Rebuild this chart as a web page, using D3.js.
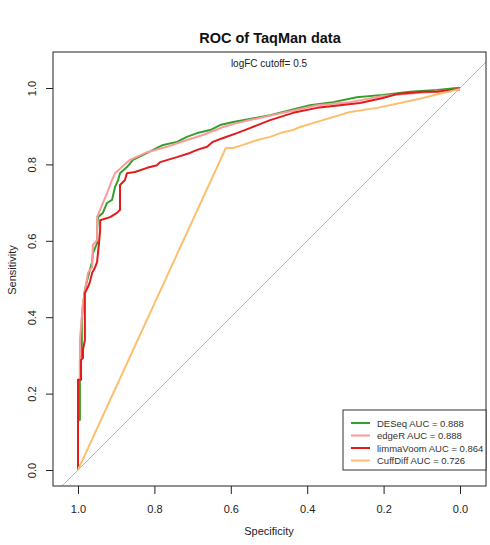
<!DOCTYPE html>
<html>
<head>
<meta charset="utf-8">
<script src="https://d3js.org/d3.v7.min.js"></script>
<style>
	body { margin: 0; background: white; }
	text { font-family: "Liberation Sans", Arial, sans-serif; }
</style>
</head>
<body>
<div id="chart"></div>
<script>
// values (specificity, sensitivity)
var deseqSpec = [1, 1, 0.995, 0.995, 0.990, 0.990, 0.987, 0.982, 0.976, 0.963, 0.961, 0.950, 0.950, 0.948, 0.935, 0.924, 0.911, 0.903, 0.895, 0.890, 0.872, 0.856, 0.819, 0.793, 0.777, 0.741, 0.715, 0.688, 0.654, 0.628, 0.594, 0.550, 0.497, 0.445, 0.393, 0.332, 0.270, 0.202, 0.131, 0.060, 0.008, 0];
var deseqSens = [0, 0.131, 0.131, 0.288, 0.301, 0.393, 0.432, 0.471, 0.497, 0.545, 0.568, 0.594, 0.628, 0.662, 0.673, 0.699, 0.707, 0.741, 0.759, 0.777, 0.793, 0.812, 0.830, 0.843, 0.851, 0.859, 0.872, 0.882, 0.890, 0.903, 0.911, 0.919, 0.929, 0.942, 0.955, 0.963, 0.976, 0.982, 0.990, 0.995, 1, 1];

var edgerSpec = [1, 1, 0.995, 0.995, 0.990, 0.987, 0.974, 0.963, 0.961, 0.950, 0.950, 0.950, 0.937, 0.924, 0.911, 0.903, 0.885, 0.864, 0.819, 0.767, 0.715, 0.673, 0.620, 0.584, 0.550, 0.463, 0.374, 0.288, 0.202, 0.113, 0.045, 0];
var edgerSens = [0, 0.236, 0.236, 0.340, 0.401, 0.437, 0.516, 0.531, 0.589, 0.602, 0.628, 0.662, 0.694, 0.725, 0.759, 0.777, 0.793, 0.812, 0.832, 0.846, 0.864, 0.877, 0.898, 0.908, 0.916, 0.935, 0.955, 0.963, 0.979, 0.987, 0.992, 0.997];

var limmaSpec = [1, 1, 0.992, 0.992, 0.987, 0.987, 0.982, 0.982, 0.974, 0.969, 0.963, 0.955, 0.950, 0.945, 0.942, 0.942, 0.916, 0.898, 0.890, 0.890, 0.877, 0.872, 0.851, 0.819, 0.793, 0.785, 0.741, 0.707, 0.688, 0.662, 0.647, 0.620, 0.584, 0.550, 0.497, 0.437, 0.374, 0.314, 0.262, 0.202, 0.165, 0.097, 0.060, 0.026, 0];
var limmaSens = [0, 0.236, 0.236, 0.288, 0.293, 0.314, 0.340, 0.463, 0.479, 0.492, 0.516, 0.531, 0.545, 0.594, 0.628, 0.654, 0.662, 0.673, 0.681, 0.746, 0.759, 0.777, 0.780, 0.791, 0.798, 0.806, 0.819, 0.830, 0.838, 0.846, 0.859, 0.869, 0.882, 0.895, 0.916, 0.935, 0.948, 0.955, 0.961, 0.974, 0.984, 0.990, 0.990, 0.995, 0.997];

var cuffSpec = [1, 0.613, 0.594, 0.568, 0.531, 0.497, 0.471, 0.437, 0.419, 0.359, 0.288, 0.217, 0.157, 0.097, 0.045, 0];
var cuffSens = [0, 0.843, 0.843, 0.851, 0.864, 0.872, 0.882, 0.890, 0.898, 0.916, 0.937, 0.948, 0.961, 0.974, 0.987, 0.997];

var methodNames = ["DESeq", "edgeR", "limmaVoom", "CuffDiff"];
var aucValues = [0.888, 0.888, 0.864, 0.726];
var methodColors = ["#33a02c", "#fb9a99", "#e31a1c", "#fdbf6f"];
var yTicks = [0, 0.2, 0.4, 0.6, 0.8, 1.0];
var xTicks = [1.0, 0.8, 0.6, 0.4, 0.2, 0.0];

var width = 490;
var height = 545;
var box = {left: 53, right: 486, top: 52, bottom: 486};

var svg = d3.select("#chart")
	.append("svg")
	.attr("width", width)
	.attr("height", height);

var x = d3.scaleLinear().domain([1, 0]).range([78, 460]);
var y = d3.scaleLinear().domain([0, 1]).range([470, 88]);

function zip(a, b) {
	return a.map(function(d, i) { return {spec: d, sens: b[i]}; });
}
var curves = [
	zip(deseqSpec, deseqSens),
	zip(edgerSpec, edgerSens),
	zip(limmaSpec, limmaSens),
	zip(cuffSpec, cuffSens)
];

svg.append("clipPath").attr("id", "plotClip")
	.append("rect")
	.attr("x", box.left).attr("y", box.top)
	.attr("width", box.right - box.left).attr("height", box.bottom - box.top);

var plot = svg.append("g").attr("clip-path", "url(#plotClip)");

// identity line
plot.append("line")
	.attr("x1", x(1.2)).attr("y1", y(-0.2))
	.attr("x2", x(-0.2)).attr("y2", y(1.2))
	.attr("stroke", "#b8b8b8")
	.attr("stroke-width", 1);

var line = d3.line()
	.x(function(d) { return x(d.spec); })
	.y(function(d) { return y(d.sens); });

curves.forEach(function(c, i) {
	plot.append("path")
		.datum(c)
		.attr("fill", "none")
		.attr("stroke", methodColors[i])
		.attr("stroke-width", 2)
		.attr("stroke-linejoin", "round")
		.attr("d", line);
});

// frame
svg.append("rect")
	.attr("x", box.left).attr("y", box.top)
	.attr("width", box.right - box.left).attr("height", box.bottom - box.top)
	.attr("fill", "none")
	.attr("stroke", "#222")
	.attr("stroke-width", 1);

// axes
var yAxis = svg.append("g")
	.attr("transform", "translate(" + box.left + ",0)")
	.call(d3.axisLeft(y).tickValues(yTicks).tickFormat(d3.format(".1f")).tickSize(7).tickPadding(0))
	.classed("axis", true);
yAxis.selectAll("text")
	.attr("transform", "rotate(-90)")
	.attr("x", 0).attr("y", 0)
	.attr("dy", 0)
	.attr("text-anchor", "middle")
	.attr("font-size", 11)
	.each(function() {
		var t = d3.select(this.parentNode).attr("transform");
	})
	.attr("transform", "translate(-17,0) rotate(-90)");

var xAxis = svg.append("g")
	.attr("transform", "translate(0," + box.bottom + ")")
	.call(d3.axisBottom(x).tickValues(xTicks).tickFormat(d3.format(".1f")).tickSize(8).tickPadding(11))
	.classed("axis", true);
xAxis.selectAll("text").attr("font-size", 11);

svg.selectAll(".axis").selectAll("text").style("fill", "#222").attr("font-family", "Liberation Sans, Arial, sans-serif");
svg.selectAll(".axis").selectAll("path").attr("stroke", "none");
svg.selectAll(".axis").selectAll("line").attr("stroke", "#222");

// titles
svg.append("text")
	.attr("x", 270).attr("y", 43)
	.attr("text-anchor", "middle")
	.attr("font-size", 14.5)
	.attr("font-weight", "bold")
	.attr("fill", "#111")
	.text("ROC of TaqMan data");

svg.append("text")
	.attr("x", 269).attr("y", 67)
	.attr("text-anchor", "middle")
	.attr("font-size", 10)
	.attr("fill", "#222")
	.text("logFC cutoff= 0.5");

svg.append("text")
	.attr("x", 269).attr("y", 535)
	.attr("text-anchor", "middle")
	.attr("font-size", 11)
	.attr("fill", "#222")
	.text("Specificity");

svg.append("text")
	.attr("transform", "translate(16,270) rotate(-90)")
	.attr("text-anchor", "middle")
	.attr("font-size", 11)
	.attr("fill", "#222")
	.text("Sensitivity");

// legend
var legend = svg.append("g");
legend.append("rect")
	.attr("x", 343).attr("y", 410)
	.attr("width", box.right - 343).attr("height", 60)
	.attr("fill", "white")
	.attr("stroke", "#333")
	.attr("stroke-width", 1);

methodNames.forEach(function(name, i) {
	var ly = 423 + i * 12.5;
	legend.append("line")
		.attr("x1", 351).attr("x2", 370)
		.attr("y1", ly).attr("y2", ly)
		.attr("stroke", methodColors[i])
		.attr("stroke-width", 2);
	legend.append("text")
		.attr("x", 377).attr("y", ly + 3.5)
		.attr("font-size", 9.5)
		.attr("fill", "#333")
		.text(name + " AUC = " + aucValues[i].toFixed(3));
});
</script>
</body>
</html>
